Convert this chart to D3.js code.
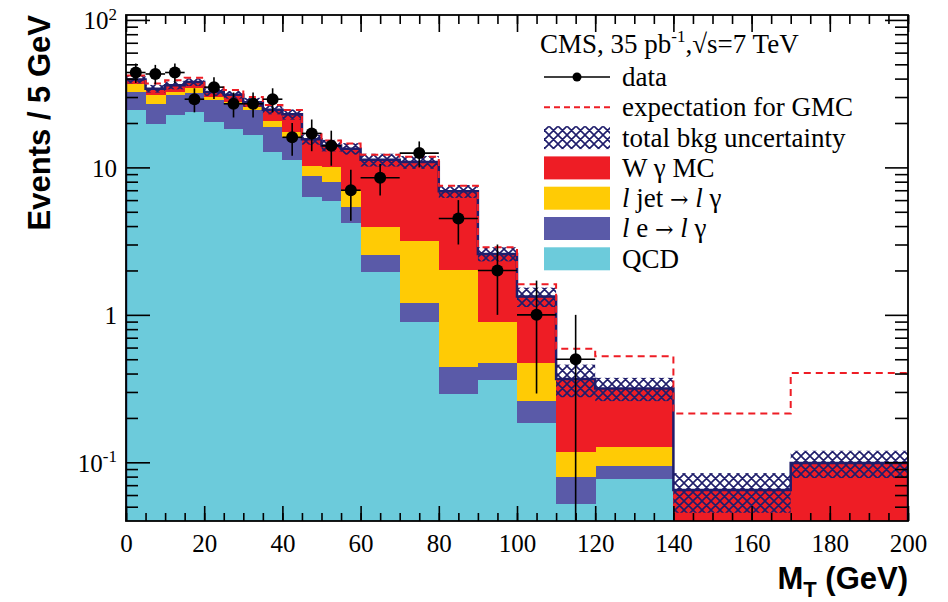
<!DOCTYPE html>
<html>
<head>
<meta charset="utf-8">
<script src="https://cdn.jsdelivr.net/npm/d3@7"></script>
<style>
  body { margin: 0; background: #fff; }
  svg { display: block; }
  text { font-family: "Liberation Serif", "Times New Roman", serif; }
</style>
</head>
<body>
<div id="chart"></div>
<script>
// bin edges of the M_T histogram (GeV)
const binEdges = [0,5,10,15,20,25,30,35,40,45,50,55,60,70,80,90,100,110,120,140,170,200];

// stacked backgrounds, events / 5 GeV
const qcd     = [24.6,19.8,22.8,23.6,20.2,18.3,16.5,12.7,11.3,6.3,5.9,4.2,1.95,0.89,0.29,0.36,0.185,0.052,0.077,0.012,0.012];
const eleFake = [7.8,7.2,8.0,8.3,8.3,8.7,7.9,6.1,4.7,2.5,2.1,1.2,0.6,0.31,0.15,0.11,0.075,0.027,0.017,0.004,0.004];
const jetFake = [4.1,4.1,1.6,2.8,1.5,0.7,1.2,1.7,1.4,1.4,2.0,1.5,1.4,1.96,1.56,0.42,0.21,0.039,0.033,0.006,0.006];
const wgMC    = [3.0,3.1,3.6,3.2,2.4,3.4,2.1,4.1,5.5,5.3,4.1,6.5,7.3,7.7,4.9,1.7,0.86,0.25,0.19,0.043,0.077];

// relative total background uncertainty
const bkgUnc = [0.06,0.06,0.06,0.06,0.06,0.06,0.07,0.07,0.08,0.08,0.09,0.09,0.1,0.1,0.1,0.11,0.15,0.25,0.18,0.3,0.21];

// expectation for GMC (dashed)
const gmc = [42,37,39,40.5,35,33.5,30,26.5,24.5,16.8,15.2,14.5,12.2,11.8,7.5,2.87,1.61,0.59,0.524,0.214,0.403];

// data, events / 5 GeV (first 18 bins)
const dataVals = [44,43,44,29,35,27,27,29,16,17,14,7,8.5,12.5,4.5,2,1,0.5];

const xTicks = [0,20,40,60,80,100,120,140,160,180,200];
const yTicks = [0.1,1,10,100];

const colors = {qcd: "#6ccbdb", ele: "#5a5aa8", jet: "#ffcb05", wg: "#ee1d25", navy: "#1f1d6b"};

const margin = {top: 15, right: 40, bottom: 81, left: 126};
const W = 948, H = 602;
const width = W - margin.left - margin.right;
const height = H - margin.top - margin.bottom;
const yMin = 0.04, yMax = 108;

const svg = d3.select("#chart").append("svg")
    .attr("width", W).attr("height", H);

const defs = svg.append("defs");
defs.append("clipPath").attr("id", "plotClip")
    .append("rect").attr("width", width).attr("height", height);
const pat = defs.append("pattern").attr("id", "hatch")
    .attr("patternUnits", "userSpaceOnUse").attr("width", 9).attr("height", 9);
pat.append("path").attr("d", "M0,0L9,9M9,0L0,9M-1,8L1,10M8,-1L10,1")
    .attr("stroke", colors.navy).attr("stroke-width", 1.6).attr("fill", "none");

const g = svg.append("g").attr("transform", `translate(${margin.left},${margin.top})`);

const x = d3.scaleLinear().domain([0, 200]).range([0, width]);
const y = d3.scaleLog().domain([yMin, yMax]).range([height, 0]);
const yc = v => y(Math.max(v, yMin * 0.5));

// table for the stack
const bins = qcd.map((d, i) => ({
    lo: binEdges[i], hi: binEdges[i + 1],
    qcd: qcd[i], ele: eleFake[i], jet: jetFake[i], wg: wgMC[i]
}));
const keys = ["qcd", "ele", "jet", "wg"];
const series = d3.stack().keys(keys)(bins);
const totals = bins.map(d => d.qcd + d.ele + d.jet + d.wg);

const plot = g.append("g").attr("clip-path", "url(#plotClip)");

// stacked fills
series.forEach(s => {
    plot.append("g").attr("shape-rendering", "crispEdges").selectAll("rect")
        .data(s)
        .join("rect")
        .attr("x", d => x(d.data.lo))
        .attr("width", d => x(d.data.hi) - x(d.data.lo) + 0.5)
        .attr("y", d => yc(d[1]))
        .attr("height", d => yc(d[0]) - yc(d[1]))
        .attr("fill", colors[s.key]);
});

// uncertainty band
plot.append("g").selectAll("rect")
    .data(bins)
    .join("rect")
    .attr("x", (d, i) => x(d.lo))
    .attr("width", d => x(d.hi) - x(d.lo))
    .attr("y", (d, i) => yc(totals[i] * (1 + bkgUnc[i])))
    .attr("height", (d, i) => yc(totals[i] * (1 - bkgUnc[i])) - yc(totals[i] * (1 + bkgUnc[i])))
    .attr("fill", "url(#hatch)");

// total outline
const stepPts = [[0, yMin * 0.5]].concat(bins.map((d, i) => [d.lo, totals[i]]),
    [[200, totals[totals.length - 1]], [200, yMin * 0.5]]);
plot.append("path")
    .attr("d", d3.line().curve(d3.curveStepAfter).x(d => x(d[0])).y(d => yc(d[1]))(stepPts))
    .attr("fill", "none").attr("stroke", colors.navy).attr("stroke-width", 2.5);

// GMC expectation
const gmcPts = bins.map((d, i) => [d.lo, gmc[i]]).concat([[200, gmc[gmc.length - 1]]]);
plot.append("path")
    .attr("d", d3.line().curve(d3.curveStepAfter).x(d => x(d[0])).y(d => yc(d[1]))(gmcPts))
    .attr("fill", "none").attr("stroke", colors.wg).attr("stroke-width", 2)
    .attr("stroke-dasharray", "7,5");

// data points
const pts = dataVals.map((v, i) => {
    const w = binEdges[i + 1] - binEdges[i];
    const err = Math.sqrt(v * w / 5) * 5 / w;
    return {lo: binEdges[i], hi: binEdges[i + 1], v: v, err: err};
});
const dg = plot.append("g").attr("stroke", "#000").attr("stroke-width", 1.6);
dg.selectAll(".ex").data(pts).join("line")
    .attr("x1", d => x(d.lo)).attr("x2", d => x(d.hi))
    .attr("y1", d => y(d.v)).attr("y2", d => y(d.v));
dg.selectAll(".ey").data(pts).join("line")
    .attr("x1", d => x((d.lo + d.hi) / 2)).attr("x2", d => x((d.lo + d.hi) / 2))
    .attr("y1", d => yc(d.v + d.err)).attr("y2", d => yc(d.v - d.err));
plot.append("g").selectAll("circle").data(pts).join("circle")
    .attr("cx", d => x((d.lo + d.hi) / 2)).attr("cy", d => y(d.v))
    .attr("r", 6).attr("fill", "#000");

// frame
g.append("rect").attr("width", width).attr("height", height)
    .attr("fill", "none").attr("stroke", "#000").attr("stroke-width", 1.8);

// axes
const xMinor = d3.range(0, 201, 5);
const yMinor = [];
[0.01, 0.1, 1, 10].forEach(p => d3.range(2, 10).forEach(k => {
    const v = p * k; if (v > yMin && v < yMax) yMinor.push(v);
}));

function clean(sel) { sel.select(".domain").remove(); sel.selectAll("line").attr("stroke", "#000").attr("stroke-width", 1.6); }

g.append("g").attr("transform", `translate(0,${height})`)
    .call(d3.axisBottom(x).tickValues(xMinor).tickSize(-8).tickFormat(""))
    .call(clean);
g.append("g").attr("transform", `translate(0,${height})`)
    .call(d3.axisBottom(x).tickValues(xTicks).tickSize(-15).tickPadding(13))
    .call(clean)
    .call(s => s.selectAll("text").attr("font-size", 25).attr("fill", "#000")
        .style("font-family", '"Liberation Serif", serif'));
g.append("g")
    .call(d3.axisTop(x).tickValues(xMinor).tickSize(-9).tickFormat(""))
    .call(clean);
g.append("g")
    .call(d3.axisTop(x).tickValues(xTicks).tickSize(-17).tickFormat(""))
    .call(clean);

g.append("g")
    .call(d3.axisLeft(y).tickValues(yMinor).tickSize(-12).tickFormat(""))
    .call(clean);
g.append("g")
    .call(d3.axisLeft(y).tickValues(yTicks).tickSize(-24).tickPadding(9).tickFormat(""))
    .call(clean)
    .call(s => s.selectAll(".tick").each(function(d) {
        const t = d3.select(this).append("text")
            .attr("x", -9).attr("dy", "0.35em").attr("text-anchor", "end")
            .attr("font-size", 25).attr("fill", "#000");
        const e = Math.round(Math.log10(d));
        if (e === 0) t.text("1");
        else if (e === 1) t.text("10");
        else {
            t.append("tspan").text("10");
            t.append("tspan").attr("font-size", 17).attr("dy", "-0.55em").text(e === 2 ? "2" : "-1");
        }
    }));
g.append("g").attr("transform", `translate(${width},0)`)
    .call(d3.axisRight(y).tickValues(yMinor).tickSize(-13).tickFormat(""))
    .call(clean);
g.append("g").attr("transform", `translate(${width},0)`)
    .call(d3.axisRight(y).tickValues(yTicks).tickSize(-23).tickFormat(""))
    .call(clean);

// axis titles
svg.append("text")
    .attr("transform", `translate(50,${margin.top}) rotate(-90)`)
    .attr("text-anchor", "end")
    .style("font-family", '"Liberation Sans", Arial, sans-serif')
    .attr("font-weight", "bold").attr("font-size", 31)
    .text("Events / 5 GeV");

const xt = svg.append("text")
    .attr("x", margin.left + width).attr("y", 589)
    .attr("text-anchor", "end")
    .style("font-family", '"Liberation Sans", Arial, sans-serif')
    .attr("font-weight", "bold").attr("font-size", 31);
xt.append("tspan").text("M");
xt.append("tspan").attr("font-size", 22).attr("dy", 8).text("T");
xt.append("tspan").attr("dy", -8).text(" (GeV)");

// header
const hdr = svg.append("text").attr("x", 540).attr("y", 53).attr("font-size", 27).attr("fill", "#000");
hdr.append("tspan").text("CMS, 35 pb");
hdr.append("tspan").attr("font-size", 17).attr("dy", -11).text("-1");
hdr.append("tspan").attr("dy", 11).text(",\u221As=7 TeV");

// legend
const legendItems = [
    {type: "data", label: ["data"]},
    {type: "dash", label: ["expectation for GMC"]},
    {type: "hatch", label: ["total bkg uncertainty"]},
    {type: "box", color: colors.wg, label: ["W \u03b3 MC"]},
    {type: "box", color: colors.jet, label: [["l", "i"], " jet ", ["\u2192", "a"], " ", ["l", "i"], " \u03b3"]},
    {type: "box", color: colors.ele, label: [["l", "i"], " e ", ["\u2192", "a"], " ", ["l", "i"], " \u03b3"]},
    {type: "box", color: colors.qcd, label: ["QCD"]}
];
const lg = svg.append("g");
legendItems.forEach((it, i) => {
    const cy = 77 + i * 30.3;
    const row = lg.append("g");
    if (it.type === "data") {
        row.append("line").attr("x1", 544).attr("x2", 610).attr("y1", cy).attr("y2", cy)
            .attr("stroke", "#000").attr("stroke-width", 1.6);
        row.append("circle").attr("cx", 577).attr("cy", cy).attr("r", 4.5).attr("fill", "#000");
    } else if (it.type === "dash") {
        row.append("line").attr("x1", 544).attr("x2", 610).attr("y1", cy).attr("y2", cy)
            .attr("stroke", colors.wg).attr("stroke-width", 2).attr("stroke-dasharray", "6,4");
    } else {
        row.append("rect").attr("x", 544).attr("y", cy - 11.5).attr("width", 66).attr("height", 23)
            .attr("fill", it.type === "hatch" ? "url(#hatch)" : it.color);
    }
    const t = row.append("text").attr("x", 622).attr("y", cy).attr("dy", "0.33em")
        .attr("font-size", 27).attr("fill", "#000");
    it.label.forEach(p => {
        if (Array.isArray(p) && p[1] === "i") t.append("tspan").attr("font-style", "italic").text(p[0]);
        else if (Array.isArray(p)) t.append("tspan").style("font-family", '"DejaVu Serif", serif')
            .attr("font-size", 22).text(p[0]);
        else t.append("tspan").text(p);
    });
});
</script>
</body>
</html>
